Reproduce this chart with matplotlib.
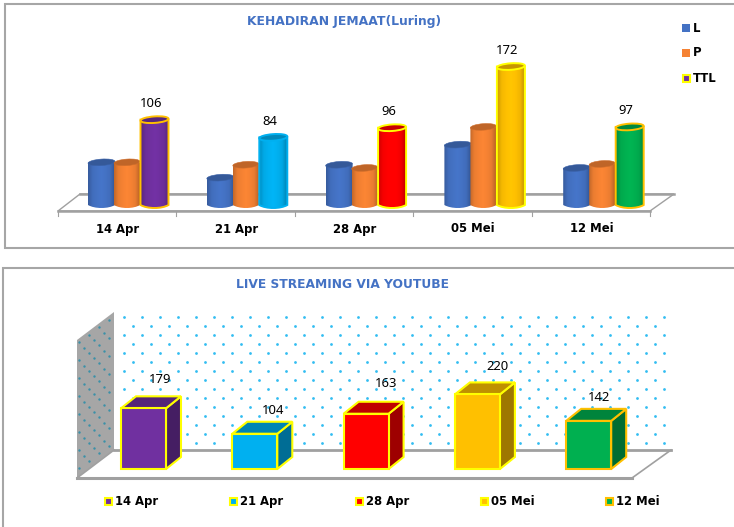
import numpy as np
from matplotlib import pyplot as plt
from matplotlib.patches import Ellipse, PathPatch, Polygon, Rectangle
from matplotlib.path import Path
from matplotlib.colors import to_rgb

# Data
dates = ["14 Apr", "21 Apr", "28 Apr", "05 Mei", "12 Mei"]
luring_l = [53, 34, 50, 75, 46]
luring_p = [53, 50, 46, 97, 51]
luring_ttl = [106, 84, 96, 172, 97]
live = [179, 104, 163, 220, 142]

# Colours
blue = "#4472C4"
orange = "#F58233"
date_colors = ["#7030A0", "#00B0F0", "#FF0000", "#FFC000", "#00B050"]
ttl_edges = ["#FFC000", "#00B0F0", "#FFFF00", "#FFFF00", "#FFC000"]
box_edges = ["#FFFF00", "#FFFF00", "#FFFF00", "#FFFF00", "#FFC000"]
grey = "#A6A6A6"
title_blue = "#4472C4"

fig = plt.figure(figsize=(7.34, 5.27), dpi=100)
ax = fig.add_axes([0, 0, 1, 1])
ax.set_axis_off()


def shade(color, f):
    return tuple(min(c * f, 1) for c in to_rgb(color))


def cylinder(x, w, base, top, color, edge=None):
    h = 4
    verts = [(x, top), (x, base)]
    codes = [Path.MOVETO, Path.LINETO]
    verts += [(x + w * 0.25, base + h), (x + w * 0.75, base + h), (x + w, base)]
    codes += [Path.CURVE4, Path.CURVE4, Path.CURVE4]
    verts += [(x + w, top), (x, top)]
    codes += [Path.LINETO, Path.CLOSEPOLY]
    path = Path(verts, codes)
    stops = np.array([0.8, 0.96, 1.0, 1.03, 1.0, 0.95, 0.76])
    grad = np.interp(np.linspace(0, 6, 60), np.arange(7), stops)
    img = np.array([[shade(color, f) for f in grad]])
    im = ax.imshow(img, extent=(x, x + w, base + h, top), aspect="auto", zorder=3, interpolation="bilinear")
    im.set_clip_path(PathPatch(path, transform=ax.transData))
    if edge:
        ax.add_patch(PathPatch(path, fc="none", ec=edge, lw=1.4, zorder=3))
    ax.add_patch(Ellipse((x + w / 2, top), w, 6.5, angle=-4, fc=shade(color, 0.78), ec=edge or shade(color, 0.85),
                         lw=1.4 if edge else 0.4, zorder=3))


def box(x, w, base, top, color, edge):
    dx, dy = 15, 12
    front = Rectangle((x, top), w, base - top, fc=color, ec=edge, lw=1.5, zorder=3)
    side = Polygon([(x + w, top), (x + w + dx, top - dy), (x + w + dx, base - dy), (x + w, base)],
                   fc=shade(color, 0.62), ec=edge, lw=1.5, zorder=3)
    roof = Polygon([(x, top), (x + dx, top - dy), (x + w + dx, top - dy), (x + w, top)],
                   fc=shade(color, 0.75), ec=edge, lw=1.5, zorder=3)
    ax.add_patch(side)
    ax.add_patch(roof)
    ax.add_patch(front)


# ---- frames ----
ax.add_patch(Rectangle((5, 4), 740, 244, fc="white", ec=grey, lw=1.5))
ax.add_patch(Rectangle((3, 268), 745, 270, fc="white", ec=grey, lw=1.5))

# ---- top chart ----
ax.text(344, 22, "KEHADIRAN JEMAAT(Luring)", color=title_blue, fontsize=8.9, fontweight="bold",
        ha="center", va="center")

ax.add_patch(Polygon([(58, 211), (80, 194), (674, 194), (650, 211)], fc="white", ec="#A0A0A0", lw=1, zorder=1))
ax.plot([80, 674], [194, 194], color="#A0A0A0", lw=1.8, zorder=1)
ax.plot([58, 650], [211, 211], color="#A0A0A0", lw=1.8, zorder=1)
for i in range(6):
    ax.plot([58 + i * 118.4] * 2, [211, 216], color="#A0A0A0", lw=0.8, zorder=1)

scale_top = 0.805
base_top = 205
for i, d in enumerate(dates):
    x0 = 88 + i * 118.8
    cylinder(x0, 27, base_top, base_top - luring_l[i] * scale_top, blue)
    cylinder(x0 + 26, 26, base_top, base_top - luring_p[i] * scale_top, orange)
    ttl_top = base_top - luring_ttl[i] * scale_top
    cylinder(x0 + 52.5, 28, base_top, ttl_top, date_colors[i], ttl_edges[i])
    ax.text(x0 + 63, ttl_top - 16, str(luring_ttl[i]), fontsize=9.4, family="Noto Sans",
            ha="center", va="center", color="black", zorder=4)
    ax.text(118 + i * 118.4, 229, d, fontsize=8.4, fontweight="bold", ha="center", va="center", color="black")

ax.add_patch(Rectangle((682, 24), 8, 8, fc=blue, ec="none"))
ax.add_patch(Rectangle((682, 49), 8, 8, fc=orange, ec="none"))
ax.add_patch(Rectangle((683, 75), 7, 7, fc=date_colors[0], ec="#FFFF00", lw=1.5))
for y, s in zip([28, 53, 79], ["L", "P", "TTL"]):
    ax.text(693, y, s, fontsize=8.4, fontweight="bold", ha="left", va="center", color="black")

# ---- bottom chart ----
ax.text(343, 285, "LIVE STREAMING VIA YOUTUBE", color=title_blue, fontsize=8.85, fontweight="bold",
        ha="center", va="center")

# back wall dots
rows = np.arange(317, 446, 9)
for r, y in enumerate(rows):
    xs = np.arange(124 + (r % 2) * 9, 670, 18)
    ax.scatter(xs, np.full_like(xs, y), s=4, color="#33BDF2", linewidths=0, zorder=1)

# side wall with dots
ax.add_patch(Polygon([(77, 340), (114, 312), (114, 450), (77, 478)], fc="#A6A6A6", ec="none", zorder=1))
for c, x in enumerate(np.arange(79, 113, 5)):
    y_off = (x - 77) * 28 / 37
    ys = np.arange(344 + (c % 2) * 9, 474, 18) - y_off
    ax.scatter(np.full_like(ys, x), ys, s=3, color="#3A90A8", linewidths=0, zorder=1.5)

ax.add_patch(Polygon([(77, 478), (114, 450), (671, 450), (632, 478)], fc="white", ec="none", zorder=1.6))
ax.plot([114, 671], [450, 450], color="#A0A0A0", lw=2, zorder=1.7)
ax.plot([632, 671], [478, 450], color="#A0A0A0", lw=1.2, zorder=1.7)
ax.plot([77, 114], [478, 450], color="#A0A0A0", lw=1.2, zorder=1.7)
ax.plot([77, 632], [478, 478], color="#A0A0A0", lw=2.2, zorder=1.7)

scale_bot = 0.339
base_bot = 469
label_dx = [17, 18, 20, 20, 10]
label_dy = [-29, -23, -30, -28, -23]
for i, d in enumerate(dates):
    x0 = 121 + i * 111.3
    top = base_bot - live[i] * scale_bot
    box(x0, 45, base_bot, top, date_colors[i], box_edges[i])
    ax.text(x0 + 22.5 + label_dx[i], top + label_dy[i], str(live[i]), fontsize=9.4, family="Noto Sans",
            ha="center", va="center", color="black", zorder=4)
    lx = 105 + i * 125.3
    ax.add_patch(Rectangle((lx, 498), 7, 7, fc=date_colors[i], ec=box_edges[i], lw=1.5))
    ax.text(lx + 10, 501.5, d, fontsize=8.4, fontweight="bold", ha="left", va="center", color="black")

ax.set_xlim(0, 734)
ax.set_ylim(527, 0)
fig.savefig("out.png", dpi=100)
